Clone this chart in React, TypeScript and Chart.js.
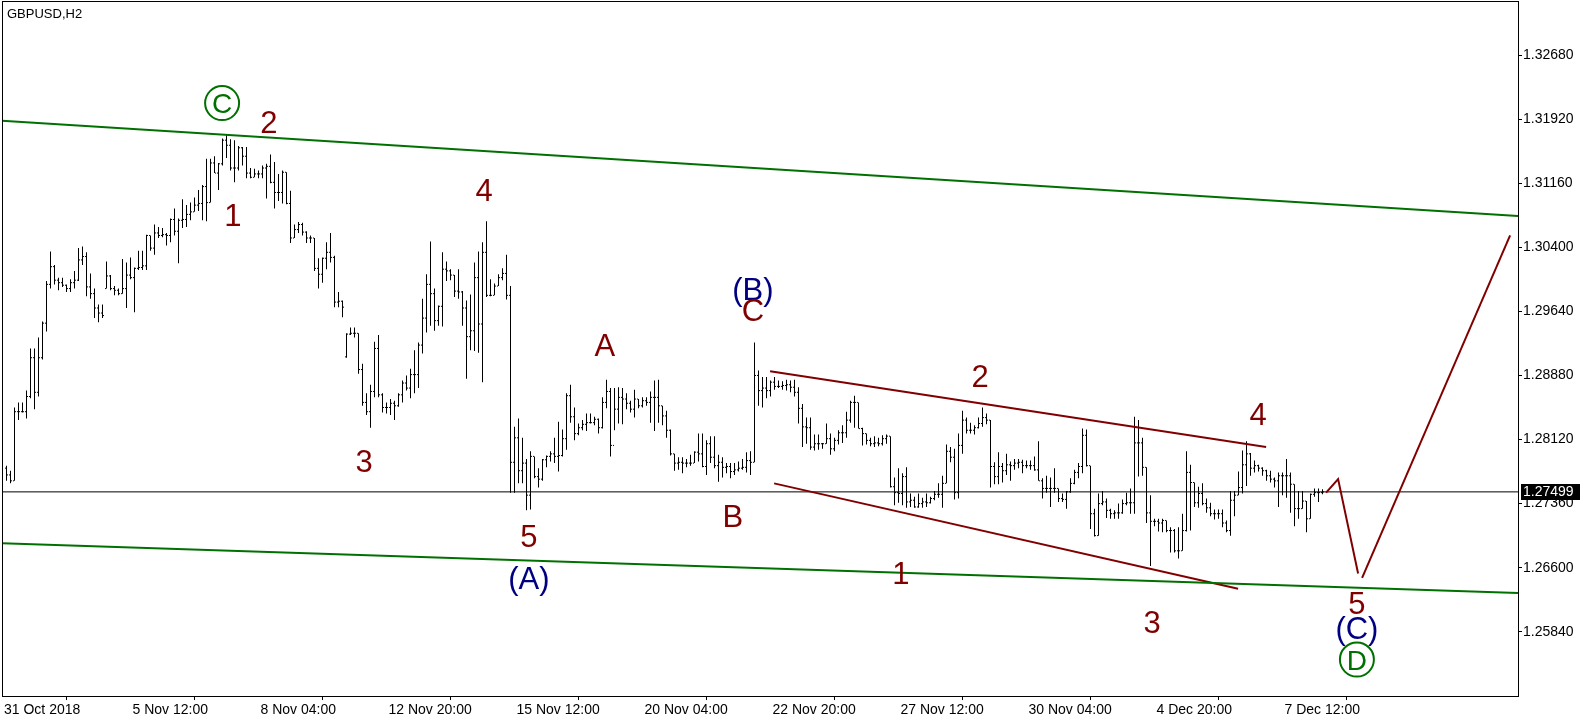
import React, { useEffect, useRef } from 'react';
import { Chart, registerables } from 'chart.js';

Chart.register(...registerables);

// ---- OHLC data (GBPUSD, H2), bar index 0..329 ----
const barOpen = [
  1.2778,1.2770,1.2763,1.2845,1.2845,1.2845,1.2863,1.2909,1.2868,1.2909,
  1.2950,1.2996,1.3017,1.3001,1.2998,1.2995,1.2991,1.2998,1.3001,1.3025,
  1.3029,1.2993,1.2985,1.2968,1.2962,1.2991,1.3006,1.2991,1.2989,1.2985,
  1.2991,1.3007,1.3004,1.3015,1.3016,1.3018,1.3054,1.3039,1.3057,1.3054,
  1.3055,1.3054,1.3073,1.3059,1.3072,1.3073,1.3079,1.3082,1.3090,1.3092,
  1.3112,1.3093,1.3140,1.3128,1.3139,1.3167,1.3161,1.3134,1.3134,1.3158,
  1.3148,1.3128,1.3123,1.3127,1.3127,1.3134,1.3136,1.3117,1.3105,1.3105,
  1.3129,1.3092,1.3051,1.3061,1.3067,1.3058,1.3051,1.3051,1.3015,1.3008,
  1.3027,1.3034,1.3028,1.2975,1.2976,1.2910,1.2937,1.2938,1.2938,1.2895,
  1.2856,1.2845,1.2869,1.2920,1.2865,1.2850,1.2850,1.2855,1.2852,1.2865,
  1.2879,1.2873,1.2889,1.2889,1.2924,1.2956,1.2996,1.2985,1.2953,1.2970,
  1.3014,1.3012,1.3007,1.2988,1.2987,1.2968,1.2934,1.2941,1.3004,1.2949,
  1.3034,1.2983,1.2983,1.2994,1.3004,1.3009,1.2983,1.2785,1.2814,1.2775,
  1.2784,1.2746,1.2792,1.2768,1.2765,1.2788,1.2792,1.2795,1.2792,1.2793,
  1.2813,1.2864,1.2839,1.2819,1.2826,1.2830,1.2832,1.2832,1.2836,1.2826,
  1.2856,1.2869,1.2805,1.2848,1.2862,1.2860,1.2855,1.2848,1.2860,1.2852,
  1.2858,1.2856,1.2862,1.2862,1.2852,1.2840,1.2823,1.2795,1.2784,1.2785,
  1.2784,1.2784,1.2784,1.2797,1.2795,1.2780,1.2807,1.2791,1.2781,1.2785,
  1.2779,1.2780,1.2774,1.2776,1.2778,1.2779,1.2787,1.2785,1.2888,1.2870,
  1.2873,1.2870,1.2880,1.2875,1.2875,1.2876,1.2877,1.2874,1.2868,1.2849,
  1.2827,1.2826,1.2803,1.2807,1.2807,1.2807,1.2813,1.2801,1.2811,1.2820,
  1.2820,1.2835,1.2856,1.2856,1.2825,1.2819,1.2811,1.2807,1.2808,1.2807,
  1.2813,1.2816,1.2756,1.2749,1.2748,1.2768,1.2738,1.2740,1.2732,1.2736,
  1.2738,1.2737,1.2742,1.2747,1.2747,1.2760,1.2798,1.2791,1.2749,1.2805,
  1.2835,1.2823,1.2823,1.2826,1.2831,1.2838,1.2835,1.2780,1.2768,1.2780,
  1.2775,1.2782,1.2781,1.2784,1.2785,1.2781,1.2781,1.2781,1.2776,1.2763,
  1.2754,1.2754,1.2754,1.2754,1.2742,1.2741,1.2750,1.2760,1.2773,1.2780,
  1.2817,1.2781,1.2724,1.2698,1.2736,1.2738,1.2728,1.2724,1.2725,1.2725,
  1.2736,1.2737,1.2737,1.2808,1.2808,1.2779,1.2725,1.2715,1.2715,1.2713,
  1.2716,1.2704,1.2704,1.2680,1.2680,1.2704,1.2773,1.2761,1.2737,1.2748,
  1.2736,1.2731,1.2724,1.2724,1.2724,1.2713,1.2704,1.2740,1.2746,1.2755,
  1.2782,1.2795,1.2778,1.2781,1.2778,1.2775,1.2769,1.2765,1.2763,1.2769,
  1.2769,1.2769,1.2759,1.2730,1.2730,1.2739,1.2718,1.2747,1.2749,1.2749,
];

const barHigh = [
  1.2781,1.2775,1.2850,1.2856,1.2856,1.2870,1.2920,1.2920,1.2933,1.2952,
  1.3000,1.3035,1.3019,1.3004,1.3004,1.2996,1.3002,1.3012,1.3039,1.3041,
  1.3034,1.3009,1.2991,1.2972,1.2972,1.3023,1.3007,1.2994,1.2991,1.3026,
  1.3022,1.3028,1.3016,1.3036,1.3036,1.3055,1.3054,1.3067,1.3064,1.3063,
  1.3057,1.3074,1.3086,1.3074,1.3097,1.3090,1.3093,1.3099,1.3108,1.3114,
  1.3145,1.3145,1.3148,1.3140,1.3169,1.3174,1.3168,1.3167,1.3160,1.3159,
  1.3159,1.3134,1.3133,1.3131,1.3137,1.3139,1.3150,1.3141,1.3127,1.3131,
  1.3129,1.3107,1.3067,1.3070,1.3069,1.3059,1.3054,1.3051,1.3027,1.3028,
  1.3046,1.3057,1.3030,1.2987,1.2977,1.2938,1.2945,1.2945,1.2938,1.2902,
  1.2867,1.2877,1.2928,1.2936,1.2867,1.2856,1.2860,1.2858,1.2867,1.2882,
  1.2888,1.2896,1.2918,1.2927,1.2979,1.3008,1.3047,1.2991,1.2971,1.3034,
  1.3023,1.3014,1.3007,1.3014,1.2988,1.2977,1.2984,1.3022,1.3035,1.3046,
  1.3071,1.3002,1.2997,1.3008,1.3015,1.3031,1.2994,1.2827,1.2837,1.2814,
  1.2789,1.2798,1.2792,1.2778,1.2789,1.2793,1.2798,1.2814,1.2833,1.2824,
  1.2867,1.2877,1.2850,1.2831,1.2835,1.2843,1.2843,1.2839,1.2837,1.2862,
  1.2883,1.2873,1.2873,1.2874,1.2873,1.2867,1.2858,1.2871,1.2860,1.2862,
  1.2862,1.2869,1.2882,1.2883,1.2852,1.2846,1.2824,1.2795,1.2791,1.2791,
  1.2789,1.2794,1.2798,1.2819,1.2819,1.2811,1.2816,1.2816,1.2794,1.2791,
  1.2784,1.2784,1.2784,1.2786,1.2789,1.2797,1.2798,1.2927,1.2894,1.2886,
  1.2886,1.2882,1.2886,1.2882,1.2881,1.2883,1.2882,1.2883,1.2874,1.2854,
  1.2838,1.2838,1.2818,1.2818,1.2808,1.2831,1.2819,1.2814,1.2823,1.2829,
  1.2845,1.2858,1.2864,1.2856,1.2826,1.2819,1.2814,1.2816,1.2814,1.2817,
  1.2818,1.2816,1.2767,1.2778,1.2772,1.2779,1.2748,1.2744,1.2748,1.2743,
  1.2748,1.2744,1.2751,1.2760,1.2769,1.2806,1.2803,1.2801,1.2819,1.2846,
  1.2838,1.2832,1.2829,1.2838,1.2850,1.2843,1.2835,1.2785,1.2797,1.2784,
  1.2795,1.2786,1.2789,1.2789,1.2788,1.2787,1.2787,1.2792,1.2810,1.2766,
  1.2769,1.2767,1.2778,1.2754,1.2748,1.2751,1.2766,1.2776,1.2784,1.2825,
  1.2824,1.2781,1.2730,1.2748,1.2751,1.2742,1.2730,1.2728,1.2736,1.2741,
  1.2749,1.2754,1.2839,1.2835,1.2814,1.2779,1.2746,1.2718,1.2718,1.2718,
  1.2716,1.2708,1.2706,1.2708,1.2724,1.2798,1.2782,1.2761,1.2756,1.2760,
  1.2742,1.2737,1.2729,1.2729,1.2729,1.2716,1.2751,1.2751,1.2774,1.2799,
  1.2810,1.2796,1.2787,1.2782,1.2779,1.2776,1.2775,1.2767,1.2773,1.2773,
  1.2789,1.2773,1.2759,1.2751,1.2751,1.2739,1.2748,1.2754,1.2754,1.2753,
];

const barLow = [
  1.2763,1.2760,1.2763,1.2835,1.2844,1.2837,1.2861,1.2848,1.2863,1.2907,
  1.2940,1.2991,1.2996,1.2989,1.2993,1.2987,1.2987,1.2991,1.3000,1.3019,
  1.2982,1.2979,1.2956,1.2951,1.2956,1.2991,1.2989,1.2983,1.2983,1.2985,
  1.2968,1.3002,1.2963,1.3013,1.3013,1.3013,1.3036,1.3031,1.3051,1.3052,
  1.3042,1.3046,1.3054,1.3021,1.3063,1.3064,1.3072,1.3082,1.3083,1.3072,
  1.3071,1.3093,1.3128,1.3108,1.3137,1.3146,1.3131,1.3117,1.3131,1.3137,
  1.3122,1.3122,1.3123,1.3122,1.3122,1.3098,1.3116,1.3086,1.3095,1.3092,
  1.3091,1.3045,1.3051,1.3057,1.3054,1.3045,1.3045,1.3012,1.2991,1.2998,
  1.3014,1.3022,1.2969,1.2969,1.2957,1.2909,1.2936,1.2933,1.2890,1.2852,
  1.2841,1.2826,1.2862,1.2862,1.2844,1.2843,1.2841,1.2835,1.2851,1.2856,
  1.2870,1.2861,1.2867,1.2873,1.2914,1.2939,1.2947,1.2941,1.2947,1.2946,
  1.3000,1.3001,1.2981,1.2979,1.2947,1.2884,1.2918,1.2917,1.2915,1.2880,
  1.2981,1.2982,1.2983,1.2994,1.3001,1.2978,1.2749,1.2749,1.2760,1.2760,
  1.2728,1.2729,1.2766,1.2755,1.2763,1.2779,1.2786,1.2784,1.2774,1.2792,
  1.2800,1.2832,1.2811,1.2817,1.2823,1.2822,1.2831,1.2829,1.2819,1.2825,
  1.2849,1.2792,1.2823,1.2831,1.2830,1.2848,1.2844,1.2838,1.2849,1.2850,
  1.2852,1.2832,1.2822,1.2832,1.2829,1.2814,1.2793,1.2775,1.2776,1.2772,
  1.2779,1.2781,1.2784,1.2786,1.2779,1.2770,1.2784,1.2778,1.2762,1.2767,
  1.2772,1.2766,1.2770,1.2774,1.2776,1.2773,1.2770,1.2785,1.2852,1.2850,
  1.2861,1.2863,1.2871,1.2873,1.2871,1.2870,1.2868,1.2863,1.2831,1.2803,
  1.2807,1.2800,1.2799,1.2800,1.2801,1.2807,1.2794,1.2798,1.2806,1.2808,
  1.2814,1.2832,1.2826,1.2825,1.2805,1.2806,1.2804,1.2803,1.2804,1.2805,
  1.2807,1.2755,1.2734,1.2737,1.2734,1.2731,1.2732,1.2731,1.2731,1.2731,
  1.2732,1.2736,1.2740,1.2743,1.2731,1.2760,1.2785,1.2741,1.2742,1.2795,
  1.2819,1.2819,1.2818,1.2825,1.2827,1.2830,1.2755,1.2759,1.2759,1.2761,
  1.2770,1.2763,1.2776,1.2778,1.2772,1.2778,1.2776,1.2775,1.2763,1.2742,
  1.2749,1.2732,1.2749,1.2738,1.2738,1.2730,1.2749,1.2759,1.2766,1.2772,
  1.2780,1.2706,1.2697,1.2698,1.2734,1.2719,1.2718,1.2718,1.2718,1.2724,
  1.2734,1.2724,1.2724,1.2768,1.2769,1.2713,1.2662,1.2709,1.2703,1.2702,
  1.2702,1.2678,1.2678,1.2671,1.2680,1.2703,1.2704,1.2732,1.2731,1.2734,
  1.2725,1.2721,1.2717,1.2718,1.2708,1.2702,1.2698,1.2721,1.2746,1.2748,
  1.2757,1.2769,1.2773,1.2774,1.2769,1.2763,1.2761,1.2755,1.2732,1.2746,
  1.2743,1.2725,1.2709,1.2718,1.2730,1.2702,1.2718,1.2744,1.2738,1.2747,
];

const barClose = [
  1.2770,1.2763,1.2845,1.2845,1.2845,1.2863,1.2909,1.2868,1.2909,1.2950,
  1.2996,1.3017,1.3001,1.2998,1.2995,1.2991,1.2998,1.3001,1.3025,1.3029,
  1.2993,1.2985,1.2968,1.2962,1.2959,1.3006,1.2991,1.2989,1.2985,1.2991,
  1.3007,1.3004,1.3015,1.3016,1.3018,1.3054,1.3039,1.3057,1.3054,1.3055,
  1.3054,1.3073,1.3059,1.3072,1.3073,1.3079,1.3082,1.3090,1.3092,1.3112,
  1.3093,1.3140,1.3128,1.3139,1.3167,1.3161,1.3134,1.3134,1.3158,1.3148,
  1.3128,1.3123,1.3127,1.3127,1.3134,1.3136,1.3117,1.3105,1.3105,1.3129,
  1.3092,1.3051,1.3061,1.3067,1.3058,1.3051,1.3051,1.3015,1.3008,1.3027,
  1.3034,1.3028,1.2975,1.2976,1.2969,1.2937,1.2938,1.2938,1.2895,1.2856,
  1.2845,1.2869,1.2920,1.2865,1.2850,1.2850,1.2855,1.2852,1.2865,1.2879,
  1.2873,1.2889,1.2889,1.2924,1.2956,1.2996,1.2985,1.2953,1.2970,1.3014,
  1.3012,1.3007,1.2988,1.2987,1.2968,1.2934,1.2941,1.3004,1.2949,1.3034,
  1.2983,1.2983,1.2994,1.3004,1.3009,1.2983,1.2785,1.2814,1.2775,1.2784,
  1.2746,1.2792,1.2768,1.2765,1.2788,1.2792,1.2795,1.2792,1.2793,1.2813,
  1.2864,1.2839,1.2819,1.2826,1.2830,1.2832,1.2832,1.2836,1.2826,1.2856,
  1.2869,1.2805,1.2848,1.2862,1.2860,1.2855,1.2848,1.2860,1.2852,1.2858,
  1.2856,1.2862,1.2862,1.2852,1.2840,1.2823,1.2795,1.2784,1.2785,1.2784,
  1.2784,1.2784,1.2797,1.2795,1.2780,1.2807,1.2791,1.2781,1.2785,1.2779,
  1.2780,1.2774,1.2776,1.2778,1.2779,1.2787,1.2785,1.2888,1.2870,1.2873,
  1.2870,1.2880,1.2875,1.2875,1.2876,1.2877,1.2874,1.2868,1.2849,1.2827,
  1.2826,1.2803,1.2807,1.2807,1.2807,1.2813,1.2801,1.2811,1.2820,1.2820,
  1.2835,1.2856,1.2856,1.2825,1.2819,1.2811,1.2807,1.2808,1.2807,1.2813,
  1.2816,1.2756,1.2749,1.2748,1.2768,1.2738,1.2740,1.2732,1.2736,1.2738,
  1.2737,1.2742,1.2747,1.2747,1.2760,1.2798,1.2791,1.2749,1.2805,1.2835,
  1.2823,1.2823,1.2826,1.2831,1.2838,1.2835,1.2780,1.2768,1.2780,1.2775,
  1.2782,1.2781,1.2784,1.2785,1.2781,1.2781,1.2781,1.2776,1.2763,1.2754,
  1.2754,1.2754,1.2754,1.2742,1.2741,1.2750,1.2760,1.2773,1.2780,1.2817,
  1.2781,1.2724,1.2698,1.2736,1.2738,1.2728,1.2724,1.2725,1.2725,1.2736,
  1.2737,1.2737,1.2808,1.2808,1.2779,1.2725,1.2715,1.2715,1.2713,1.2716,
  1.2704,1.2704,1.2680,1.2680,1.2704,1.2773,1.2761,1.2737,1.2748,1.2736,
  1.2731,1.2724,1.2724,1.2724,1.2713,1.2704,1.2740,1.2746,1.2755,1.2782,
  1.2795,1.2778,1.2781,1.2778,1.2775,1.2769,1.2765,1.2763,1.2769,1.2769,
  1.2769,1.2759,1.2730,1.2730,1.2739,1.2718,1.2747,1.2749,1.2749,1.27499,
];

const lastPrice = 1.27499;
const symbolTitle = 'GBPUSD,H2';

// ---- axes ----
const timeTickIndex = [-1.125, 31, 63, 95, 127, 159, 191, 223, 255, 287, 319];
const timeTickLabels = [
  '31 Oct 2018', '5 Nov 12:00', '8 Nov 04:00', '12 Nov 20:00', '15 Nov 12:00',
  '20 Nov 04:00', '22 Nov 20:00', '27 Nov 12:00', '30 Nov 04:00', '4 Dec 20:00', '7 Dec 12:00',
];
const priceTicks = [1.2584, 1.266, 1.2736, 1.2812, 1.2888, 1.2964, 1.304, 1.3116, 1.3192, 1.3268];
const indexMin = -1.125;
const indexMax = 377.875;
const priceMin = 1.25078;
const priceMax = 1.33321;

// ---- trend lines (bar index, price) ----
const greenUpperX = [-1.125, 377.875];
const greenUpperY = [1.3190, 1.3077];
const greenLowerX = [-1.125, 377.875];
const greenLowerY = [1.2689, 1.2630];
const wedgeUpperX = [190.9, 314.9];
const wedgeUpperY = [1.2893, 1.2803];
const wedgeLowerX = [191.9, 307.9];
const wedgeLowerY = [1.2760, 1.2635];
const forecastAX = [329.9, 332.9, 337.9];
const forecastAY = [1.2749, 1.2765, 1.2653];
const forecastBX = [338.9, 375.9];
const forecastBY = [1.2648, 1.3054];

// ---- wave labels ----
const waveText = ['C', '2', '1', '4', '3', '5', '(A)', 'A', 'B', '(B)', 'C', '2', '1', '3', '4', '5', '(C)', 'D'];
const waveIndex = [53.9, 65.6, 56.6, 119.4, 89.4, 130.6, 130.6, 149.6, 181.6, 186.6, 186.6, 243.4, 223.6, 286.4, 312.9, 337.6, 337.6, 337.6];
const wavePrice = [1.3211, 1.3188, 1.3078, 1.3108, 1.2787, 1.2697, 1.2648, 1.2924, 1.2721, 1.2991, 1.2966, 1.2887, 1.2654, 1.2595, 1.2842, 1.2618, 1.2589, 1.2551];
const waveDegree = ['cycle', 'minor', 'minor', 'minor', 'minor', 'minor', 'inter', 'minor', 'minor', 'inter', 'minor', 'minor', 'minor', 'minor', 'minor', 'minor', 'inter', 'cycle'];

const RED = '#800000';
const BLUE = '#000080';
const GREEN = '#007000';
const degreeColor: Record<string, string> = { cycle: GREEN, minor: RED, inter: BLUE };

const pts = (xs: number[], ys: number[]) => xs.map((x, i) => ({ x, y: ys[i] }));

const decorPlugin = {
  id: 'decor',
  beforeDraw(chart: any) {
    const { ctx } = chart;
    ctx.save();
    ctx.fillStyle = '#ffffff';
    ctx.fillRect(0, 0, chart.width, chart.height);
    ctx.restore();
  },
  afterDatasetsDraw(chart: any) {
    const { ctx, scales } = chart;
    const xs = scales.x;
    const ys = scales.y;
    ctx.save();
    waveText.forEach((t, i) => {
      const px = xs.getPixelForValue(waveIndex[i]);
      const py = ys.getPixelForValue(wavePrice[i]);
      const color = degreeColor[waveDegree[i]];
      ctx.fillStyle = color;
      ctx.strokeStyle = color;
      ctx.textAlign = 'center';
      ctx.textBaseline = 'alphabetic';
      if (waveDegree[i] === 'cycle') {
        ctx.lineWidth = 2;
        ctx.beginPath();
        ctx.arc(px, py, 17, 0, Math.PI * 2);
        ctx.stroke();
        ctx.font = '28px "Liberation Sans"';
        ctx.fillText(t, px, py + 10);
      } else {
        ctx.font = '31px "Liberation Sans"';
        ctx.fillText(t, px, py + 11);
      }
    });
    ctx.restore();
  },
  afterDraw(chart: any) {
    const { ctx, chartArea, scales } = chart;
    ctx.save();
    ctx.strokeStyle = '#000';
    ctx.lineWidth = 1;
    ctx.strokeRect(chartArea.left + 0.5, chartArea.top + 0.5, chartArea.right - chartArea.left, chartArea.bottom - chartArea.top);
    // title
    ctx.fillStyle = '#000';
    ctx.font = '13px "Liberation Sans"';
    ctx.textAlign = 'left';
    ctx.textBaseline = 'alphabetic';
    ctx.fillText(symbolTitle, 7, 18);
    // last price box
    const py = scales.y.getPixelForValue(lastPrice);
    ctx.fillStyle = '#000';
    ctx.fillRect(chartArea.right + 3, Math.round(py) - 8, 59, 16);
    ctx.fillStyle = '#fff';
    ctx.font = '14px "Liberation Sans"';
    ctx.textBaseline = 'middle';
    ctx.fillText(lastPrice.toFixed(5), chartArea.right + 5, Math.round(py) + 0.5);
    ctx.restore();
  },
};

export default function App() {
  const ref = useRef<HTMLCanvasElement>(null);
  useEffect(() => {
    document.body.style.margin = '0';
    const canvas = ref.current!;
    const lineDs = (data: any[], color: string, width: number, order: number) => ({
      type: 'line' as const,
      data,
      borderColor: color,
      borderWidth: width,
      pointRadius: 0,
      tension: 0,
      fill: false,
      order,
    });
    const chart = new Chart(canvas, {
      type: 'bar',
      data: {
        datasets: [
          lineDs(pts(greenUpperX, greenUpperY), GREEN, 2, 0),
          lineDs(pts(greenLowerX, greenLowerY), GREEN, 2, 0),
          lineDs(pts(wedgeUpperX, wedgeUpperY), RED, 2, 0),
          lineDs(pts(wedgeLowerX, wedgeLowerY), RED, 2, 0),
          lineDs(pts(forecastAX, forecastAY), RED, 2, 0),
          lineDs(pts(forecastBX, forecastBY), RED, 2, 0),
          {
            type: 'bar' as const,
            data: barHigh.map((h, i) => ({ x: i, y: [barLow[i], h] })),
            backgroundColor: '#000',
            borderWidth: 0,
            barThickness: 1,
            inflateAmount: 0,
            grouped: false,
            order: 5,
          } as any,
          {
            type: 'line' as const,
            data: barOpen.map((o, i) => ({ x: i - 0.25, y: o })),
            showLine: false,
            pointStyle: 'line',
            pointRadius: 0.5,
            pointBorderWidth: 1,
            pointBorderColor: '#000',
            order: 4,
          } as any,
          {
            type: 'line' as const,
            data: barClose.map((c, i) => ({ x: i + 0.25, y: c })),
            showLine: false,
            pointStyle: 'line',
            pointRadius: 0.5,
            pointBorderWidth: 1,
            pointBorderColor: '#000',
            order: 4,
          } as any,
          lineDs(pts([indexMin, indexMax], [lastPrice, lastPrice]), '#000', 1, 10),
        ] as any,
      },
      options: {
        responsive: false,
        maintainAspectRatio: false,
        animation: false,
        devicePixelRatio: 1,
        events: [],
        layout: { autoPadding: false, padding: { left: 2, top: 1, right: 0, bottom: 0 } },
        plugins: { legend: { display: false }, tooltip: { enabled: false } },
        scales: {
          x: {
            type: 'linear',
            min: indexMin,
            max: indexMax,
            offset: false,
            afterBuildTicks: (scale: any) => {
              scale.ticks = timeTickIndex.map((v) => ({ value: v }));
            },
            afterFit: (scale: any) => {
              scale.height = 27;
              scale.paddingLeft = 0;
              scale.paddingRight = 0;
              scale.paddingTop = 0;
              scale.paddingBottom = 0;
            },
            grid: { drawOnChartArea: false, drawTicks: true, tickLength: 4, color: '#000', lineWidth: 1 },
            border: { display: false },
            ticks: {
              autoSkip: false,
              maxRotation: 0,
              align: 'start',
              labelOffset: 2,
              padding: 2,
              color: '#000',
              font: { family: 'Liberation Sans', size: 14 },
              callback: (_v: any, idx: number) => timeTickLabels[idx],
            },
          },
          y: {
            type: 'linear',
            position: 'right',
            min: priceMin,
            max: priceMax,
            afterBuildTicks: (scale: any) => {
              scale.ticks = priceTicks.map((v) => ({ value: v }));
            },
            afterFit: (scale: any) => {
              scale.width = 78;
              scale.paddingTop = 0;
              scale.paddingBottom = 0;
              scale.paddingLeft = 0;
              scale.paddingRight = 0;
            },
            grid: { drawOnChartArea: false, drawTicks: true, tickLength: 4, color: '#000', lineWidth: 1 },
            border: { display: false },
            ticks: {
              padding: 1,
              color: '#000',
              font: { family: 'Liberation Sans', size: 14 },
              callback: (v: any) => Number(v).toFixed(5),
            },
          },
        },
      } as any,
      plugins: [decorPlugin],
    });
    return () => chart.destroy();
  }, []);
  return (
    <div style={{ width: 1596, height: 723 }}>
      <canvas ref={ref} width={1596} height={723} style={{ display: 'block' }} />
    </div>
  );
}
